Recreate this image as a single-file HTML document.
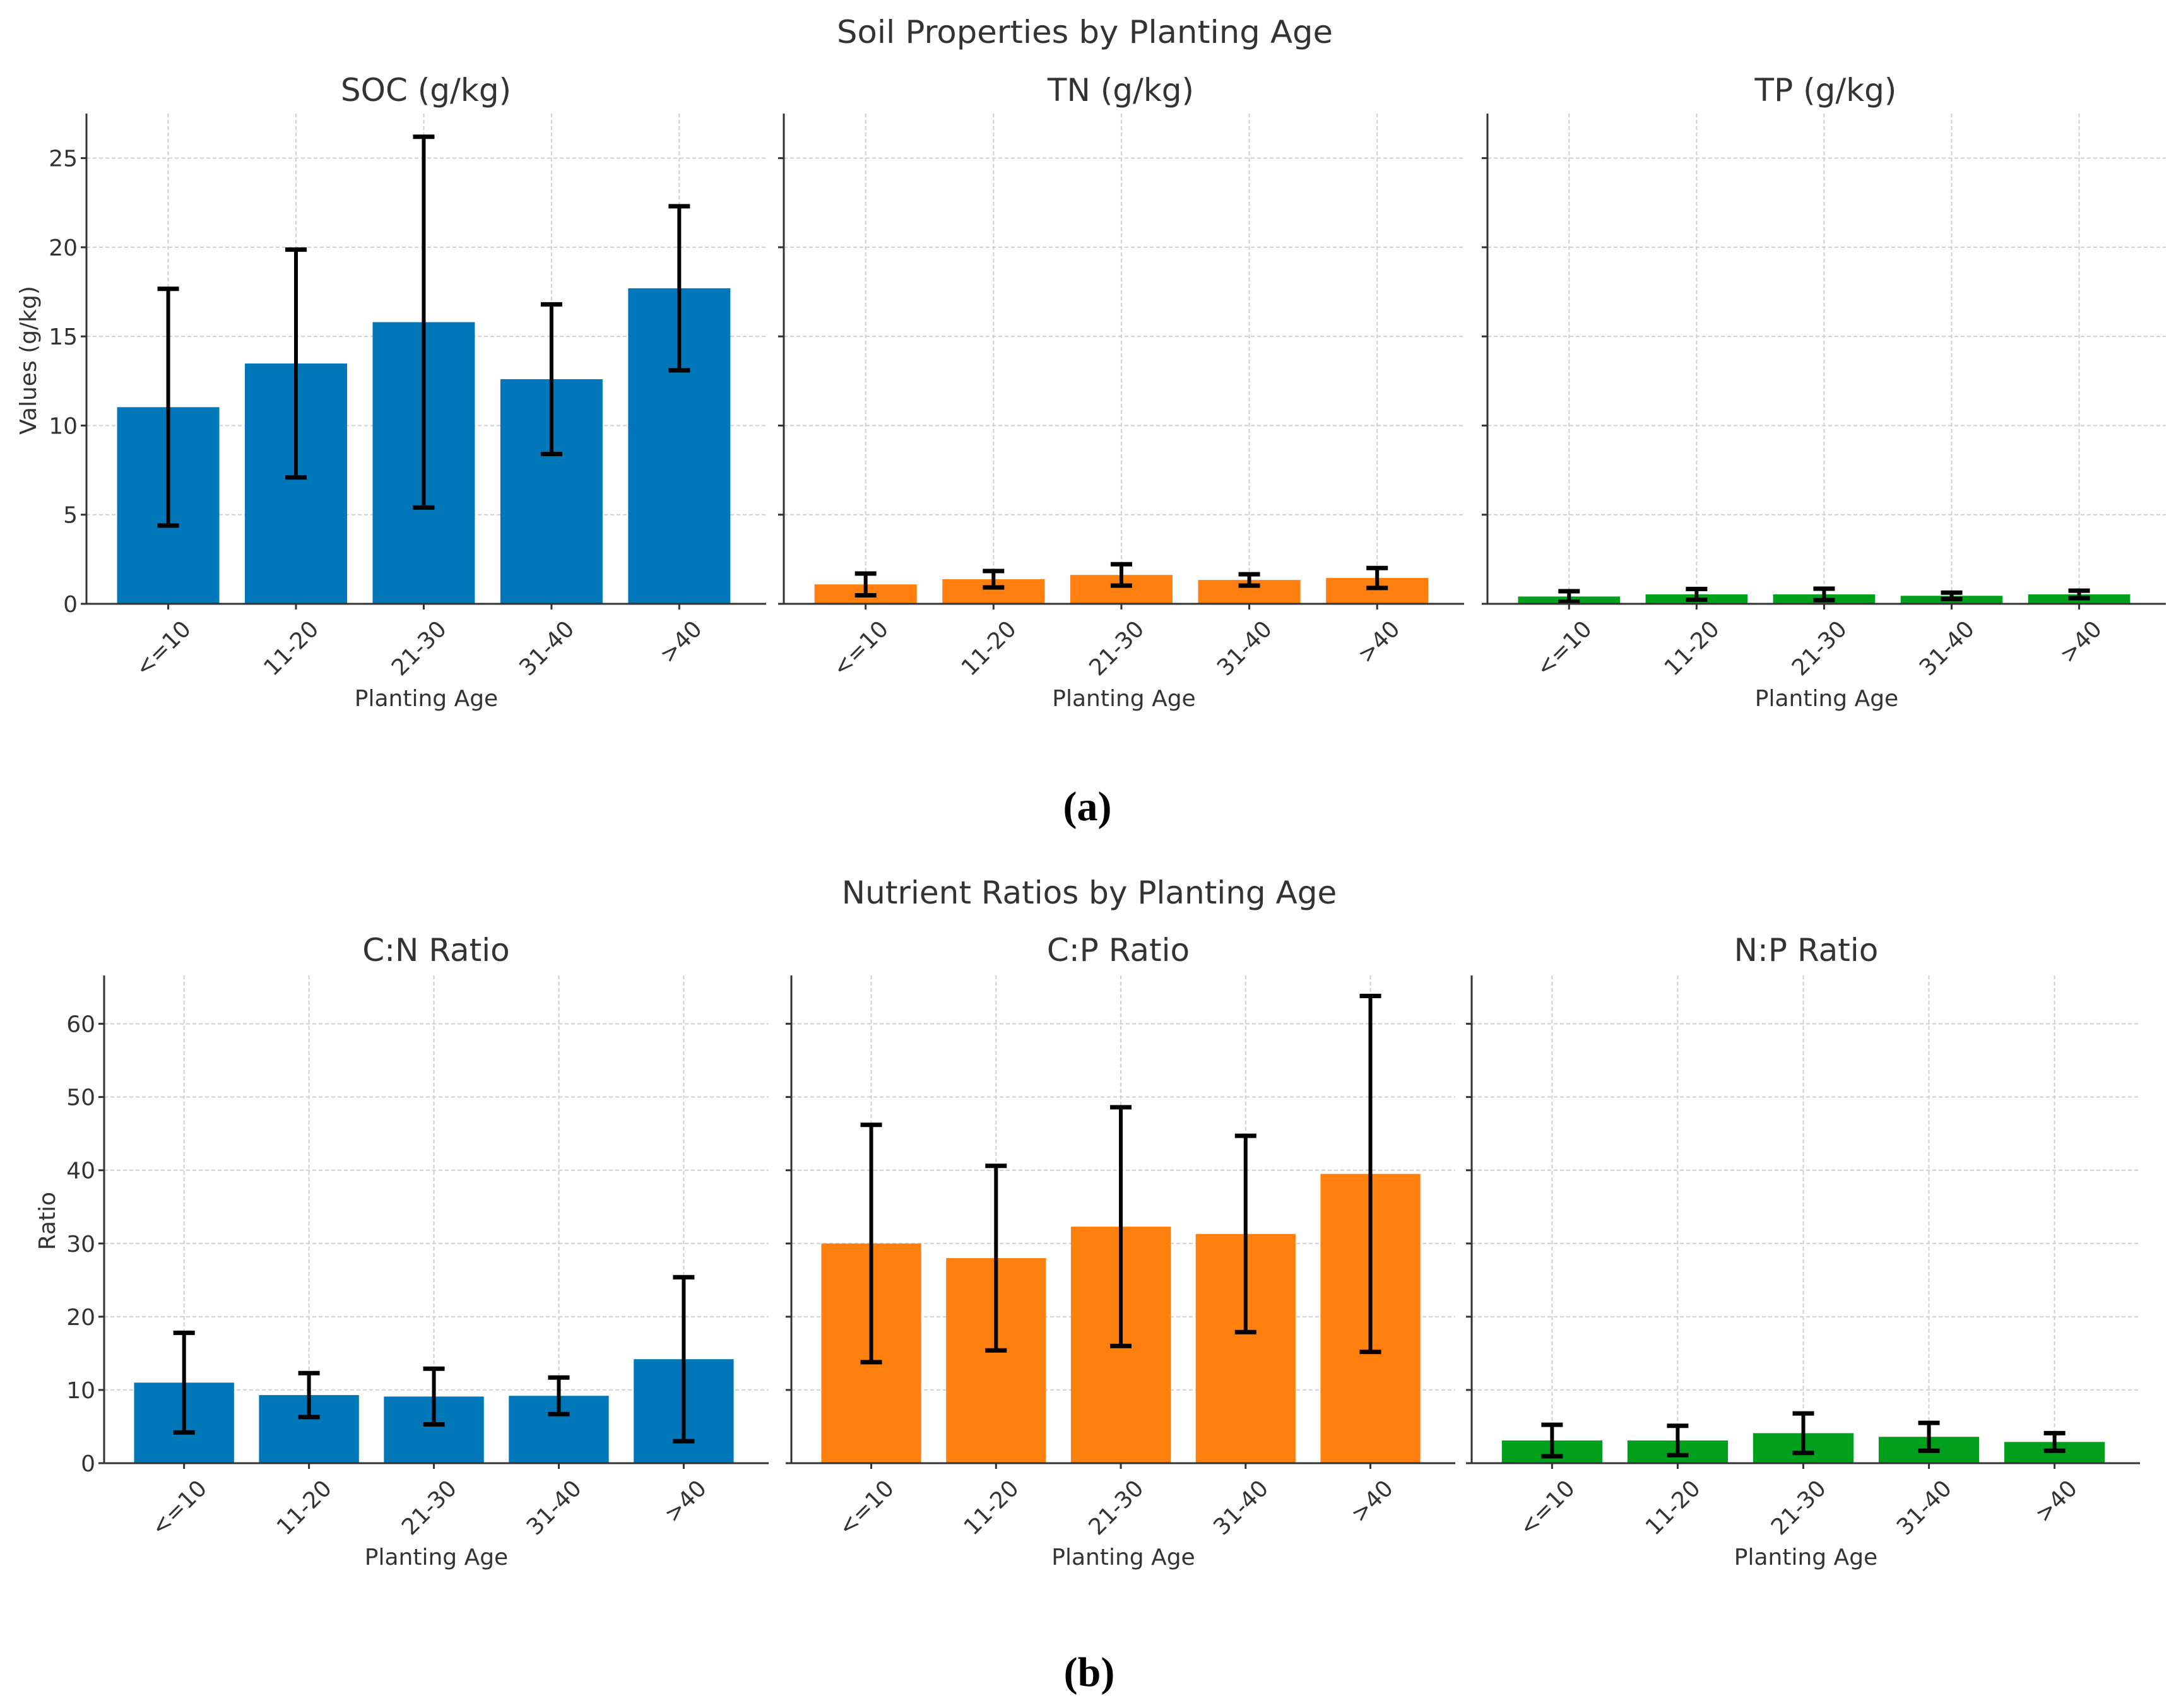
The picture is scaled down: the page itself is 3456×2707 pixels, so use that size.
<!DOCTYPE html>
<html><head><meta charset="utf-8"><style>
html,body{margin:0;padding:0;background:#fff;}
svg{display:block;}
text{font-family:"DejaVu Sans","Liberation Sans",sans-serif;fill:#333;}
</style></head><body>
<svg id="fig" width="3456" height="2707" viewBox="0 0 3456 2707" xmlns="http://www.w3.org/2000/svg">
<text x="1719" y="68" font-size="50" text-anchor="middle" textLength="786" lengthAdjust="spacingAndGlyphs">Soil Properties by Planting Age</text>
<text x="1726" y="1432" font-size="50" text-anchor="middle">Nutrient Ratios by Planting Age</text>
<text x="1723" y="1300" font-size="66" font-weight="bold" text-anchor="middle" style="font-family:'Liberation Serif',serif;fill:#000">(a)</text>
<text x="1726" y="2672" font-size="66" font-weight="bold" text-anchor="middle" style="font-family:'Liberation Serif',serif;fill:#000">(b)</text>
<g id="plots"></g>
</svg>
<script>
const categories = ["<=10","11-20","21-30","31-40",">40"];
const socMean = [11.03, 13.48, 15.8, 12.6, 17.7];
const socErr = [6.64, 6.39, 10.4, 4.2, 4.6];
const tnMean = [1.09, 1.38, 1.62, 1.34, 1.45];
const tnErr = [0.61, 0.46, 0.6, 0.32, 0.56];
const tpMean = [0.41, 0.53, 0.53, 0.45, 0.53];
const tpErr = [0.3, 0.3, 0.32, 0.18, 0.21];
const cnMean = [11.0, 9.3, 9.1, 9.2, 14.2];
const cnErr = [6.8, 3.0, 3.8, 2.5, 11.2];
const cpMean = [30.0, 28.0, 32.3, 31.3, 39.5];
const cpErr = [16.2, 12.6, 16.3, 13.4, 24.3];
const npMean = [3.1, 3.1, 4.1, 3.6, 2.9];
const npErr = [2.15, 2.0, 2.7, 1.9, 1.2];
const ticksA = [0, 5, 10, 15, 20, 25];
const ticksB = [0, 10, 20, 30, 40, 50, 60];

const NS = "http://www.w3.org/2000/svg";
const root = document.getElementById("plots");
function mk(tag, attrs, parent, txt) {
  const e = document.createElementNS(NS, tag);
  for (const k in attrs) e.setAttribute(k, attrs[k]);
  if (txt !== undefined) e.textContent = txt;
  (parent || root).appendChild(e);
  return e;
}
const BLUE = "#0077b8", ORANGE = "#ff800e", GREEN = "#00a01c";

function panel(o) {
  const g = mk("g", {});
  
  
  const xmin = -0.64, xmax = 4.68;
  const xs = v => o.x0 + (v - xmin) / (xmax - xmin) * (o.x1 - o.x0);
  const ys = v => o.y0 - (v / o.ymax) * (o.y0 - o.yTop);
  // grid
  o.ticks.forEach(t => {
    const l = mk("line", {x1: o.x0, x2: o.x1, y1: ys(t), y2: ys(t), stroke: "#d0d0d0", "stroke-width": 2, "stroke-dasharray": "6,4"}, g);
    
    
  });
  categories.forEach((c, i) => {
    const l = mk("line", {x1: xs(i), x2: xs(i), y1: o.yTop, y2: o.y0, stroke: "#d0d0d0", "stroke-width": 2, "stroke-dasharray": "6,4"}, g);
    
    
  });
  const bw = 0.8 * (xs(1) - xs(0));
  o.mean.forEach((m, i) => {
    const r = mk("rect", {x: xs(i) - bw / 2, y: ys(m), width: bw, height: o.y0 - ys(m), fill: o.color}, g);
    
    
  });
  o.mean.forEach((m, i) => {
    const eg = mk("g", {stroke: "#000", "stroke-width": 6}, g);
    
    
    const lo = ys(m - o.err[i]), hi = ys(m + o.err[i]), cx = xs(i);
    mk("line", {x1: cx, x2: cx, y1: lo, y2: hi}, eg);
    mk("line", {x1: cx - 17, x2: cx + 17, y1: lo, y2: lo, "stroke-width": 7}, eg);
    mk("line", {x1: cx - 17, x2: cx + 17, y1: hi, y2: hi, "stroke-width": 7}, eg);
  });
  // spines
  const sp = mk("path", {d: `M${o.x0},${o.yTop} V${o.y0} H${o.x1}`, fill: "none", stroke: "#333", "stroke-width": 3}, g);
  
  
  // y ticks
  o.ticks.forEach(t => {
    mk("line", {x1: o.x0 - 9, x2: o.x0, y1: ys(t), y2: ys(t), stroke: "#333", "stroke-width": 3}, g);
    if (o.showY) {
      const tx = mk("text", {x: o.x0 - 14, y: ys(t) + 13, "font-size": 36, "text-anchor": "end"}, g, String(t));
      
      
    }
  });
  categories.forEach((c, i) => {
    mk("line", {x1: xs(i), x2: xs(i), y1: o.y0, y2: o.y0 + 9, stroke: "#333", "stroke-width": 3}, g);
    const ax = xs(i) + 38, ay = o.y0 + 42;
    const tx = mk("text", {x: ax, y: ay, "font-size": 36, "text-anchor": "end", transform: `rotate(-45 ${ax} ${ay})`}, g, c);
    
    
  });
  const xc = (o.x0 + o.x1) / 2;
  const tt = mk("text", {x: o.titleX, y: o.titleY, "font-size": 50, "text-anchor": "middle"}, g, o.title);
  
  
  const xl = mk("text", {x: xc, y: o.xlabY, "font-size": 36, "text-anchor": "middle"}, g, "Planting Age");
  
  
  if (o.ylabel) {
    const yl = mk("text", {x: o.ylabX, y: o.ylabY, "font-size": 36, "text-anchor": "middle", transform: `rotate(-90 ${o.ylabX} ${o.ylabY})`}, g, o.ylabel);
    
    
  }
}

const topRow = {y0: 957, yTop: 180, ymax: 27.5, ticks: ticksA, titleY: 160, xlabY: 1119};
const botRow = {y0: 2319, yTop: 1546, ymax: 66.6, ticks: ticksB, titleY: 1523, xlabY: 2480};
panel(Object.assign({}, topRow, {name: "soc", x0: 137, x1: 1214, mean: socMean, err: socErr, color: BLUE, title: "SOC (g/kg)", titleX: 675, showY: true, ylabel: "Values (g/kg)", ylabX: 57, ylabY: 571}));
panel(Object.assign({}, topRow, {name: "tn", x0: 1242, x1: 2320, mean: tnMean, err: tnErr, color: ORANGE, title: "TN (g/kg)", titleX: 1776, showY: false}));
panel(Object.assign({}, topRow, {name: "tp", x0: 2357, x1: 3432, mean: tpMean, err: tpErr, color: GREEN, title: "TP (g/kg)", titleX: 2893, showY: false}));
panel(Object.assign({}, botRow, {name: "cn", x0: 165, x1: 1218, mean: cnMean, err: cnErr, color: BLUE, title: "C:N Ratio", titleX: 691, showY: true, ylabel: "Ratio", ylabX: 87, ylabY: 1935}));
panel(Object.assign({}, botRow, {name: "cp", x0: 1254, x1: 2306, mean: cpMean, err: cpErr, color: ORANGE, title: "C:P Ratio", titleX: 1772, showY: false}));
panel(Object.assign({}, botRow, {name: "np", x0: 2332, x1: 3391, mean: npMean, err: npErr, color: GREEN, title: "N:P Ratio", titleX: 2862, showY: false}));
</script>
</body></html>
